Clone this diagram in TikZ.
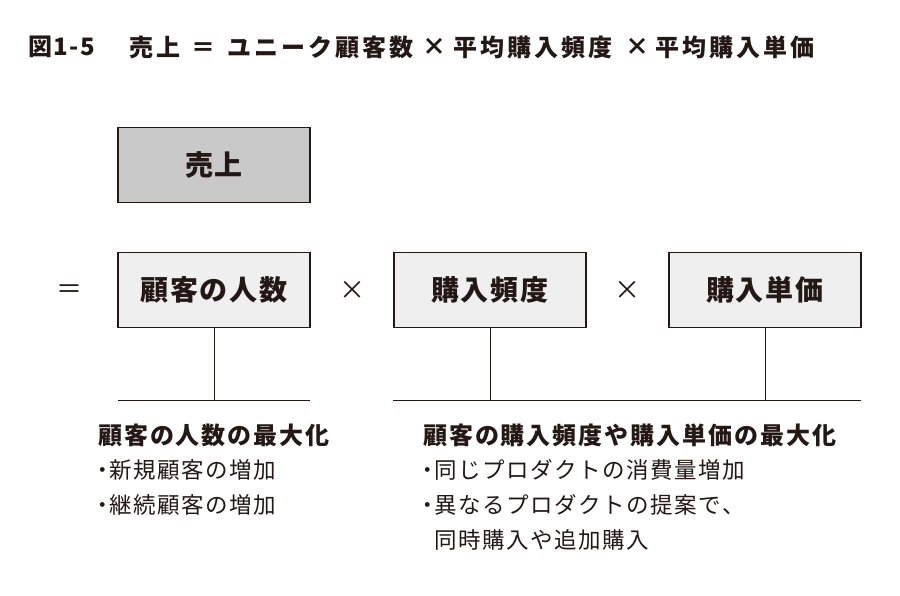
\documentclass[tikz,border=0pt]{standalone}
\usepackage{fontspec}
\setmainfont{Noto Sans CJK JP}
\definecolor{ink}{HTML}{231815}
\definecolor{darkfill}{HTML}{C9C9C9}
\definecolor{lightfill}{HTML}{EFEFEF}
\newcommand{\bul}{\kern-0.3em・\kern-0.22em}
\begin{document}
\begin{tikzpicture}[x=1pt,y=-1pt,
  txt/.style={inner sep=0pt, text=ink, anchor=west},
  ttl/.style={txt, font=\fontsize{24}{24}\selectfont\bfseries\addfontfeature{LetterSpace=13}},
  ttlop/.style={inner sep=0pt, text=ink, font=\fontsize{24}{24}\selectfont\bfseries},
  box/.style={draw=ink, line width=1.4pt, minimum width=192pt, minimum height=75pt, inner sep=0pt, text=ink,
    font=\fontsize{28}{28}\selectfont\bfseries\addfontfeature{LetterSpace=7}},
  op/.style={inner sep=0pt, text=ink, font=\fontsize{26}{26}\selectfont},
  head/.style={txt, font=\fontsize{24}{24}\selectfont\bfseries\addfontfeature{LetterSpace=8}},
  item/.style={txt, font=\fontsize{22.5}{22.5}\selectfont\addfontfeature{LetterSpace=7}},
  conn/.style={draw=ink, line width=0.8pt}]
\useasboundingbox (0,0) rectangle (900,595);
% title
\node[ttl, font=\fontsize{24}{24}\selectfont\bfseries\addfontfeature{LetterSpace=6}] (t1) at (28,47) {図1-5};
\node[ttl] (t2) at (129,47) {売上};
\node[ttlop] (t3) at (203,50) {＝};
\node[ttl] (t4) at (227,47) {ユニーク顧客数};
\node[ttlop] (t5) at (434,47) {×};
\node[ttl] (t6) at (453,47) {平均購入頻度};
\node[ttlop] (t7) at (637,47) {×};
\node[ttl] (t8) at (655,47) {平均購入単価};
% boxes
\node[box, fill=darkfill] (sales) at (214,165) {売上};
\node[box, fill=lightfill] (cust) at (214,290) {顧客の人数};
\node[box, fill=lightfill] (freq) at (490,290) {購入頻度};
\node[box, fill=lightfill] (price) at (765,290) {購入単価};
\node[op] (eq) at (69,292) {＝};
\node[op] (x1) at (352,290) {×};
\node[op] (x2) at (627,290) {×};
% connectors
\coordinate (l1) at (118,400);
\coordinate (r1) at (310,400);
\coordinate (l2) at (393,400);
\coordinate (r2) at (861,400);
\draw[conn] (l1) -- (r1);
\draw[conn] (l2) -- (r2);
\draw[conn] (cust.south) -- (cust.south |- l1);
\draw[conn] (freq.south) -- (freq.south |- l2);
\draw[conn] (price.south) -- (price.south |- l2);
% left text
\node[head] (h1) at (98,435) {顧客の人数の最大化};
\node[item] (a1) at (98,470) {\bul 新規顧客の増加};
\node[item] (a2) at (98,505) {\bul 継続顧客の増加};
% right text
\node[head] (h2) at (423,435) {顧客の購入頻度や購入単価の最大化};
\node[item] (b1) at (423,470) {\bul 同じプロダクトの消費量増加};
\node[item] (b2) at (423,505) {\bul 異なるプロダクトの提案で、};
\node[item] (b3) at (434,540) {同時購入や追加購入};
\end{tikzpicture}
\end{document}
